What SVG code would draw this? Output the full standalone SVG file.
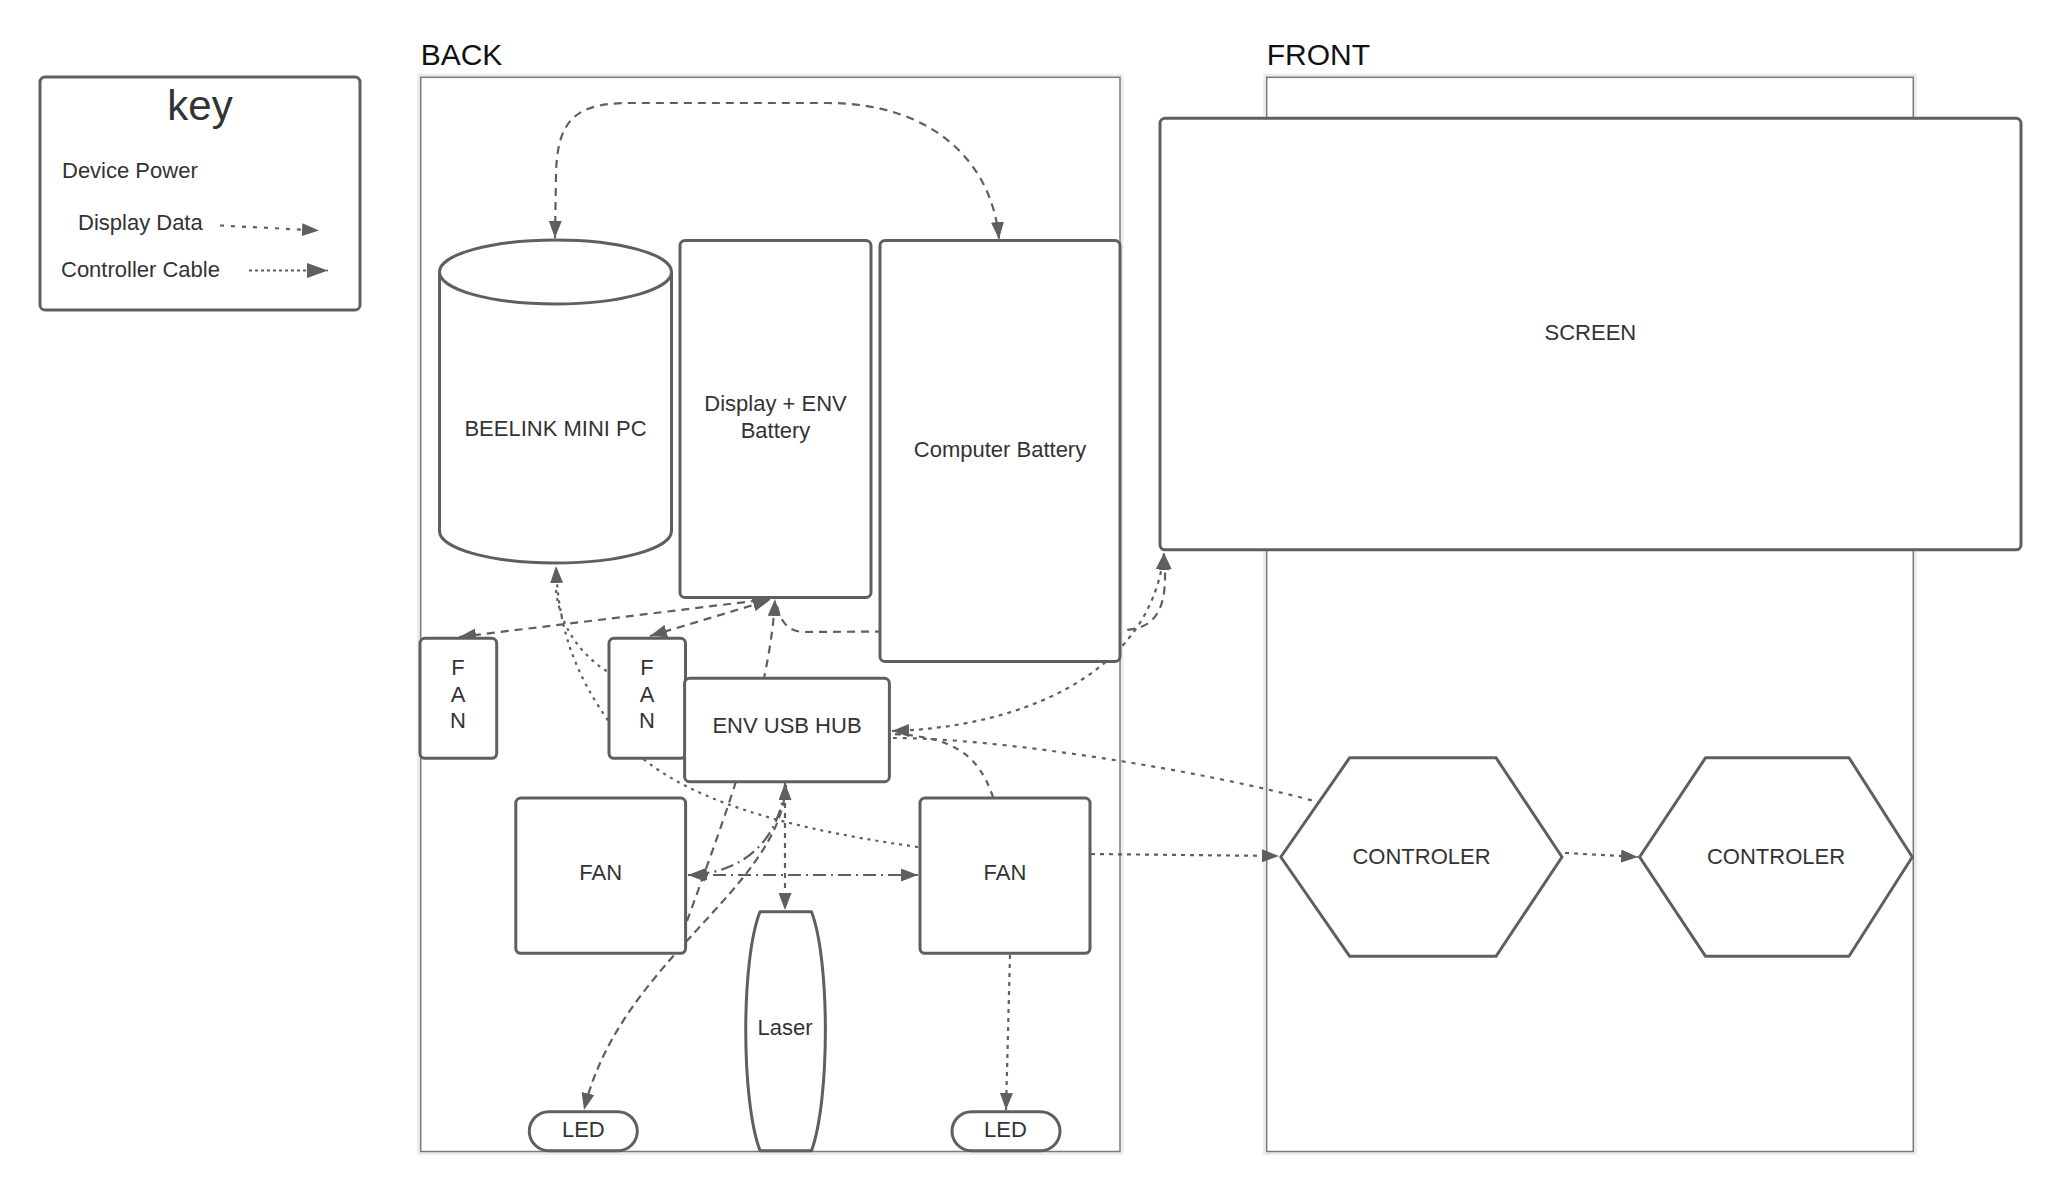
<svg xmlns="http://www.w3.org/2000/svg" width="2061" height="1198" viewBox="0 0 2061 1198">
<style>
  .title{font-family:"Liberation Sans",Arial,sans-serif;font-size:30px;fill:#111}
  .lbl{font-family:"Liberation Sans",Arial,sans-serif;font-size:22px;fill:#333;text-anchor:middle}
  .klbl{font-family:"Liberation Sans",Arial,sans-serif;font-size:22px;fill:#333}
  .node{fill:#fff;stroke:#5f5f5f;stroke-width:3;stroke-linejoin:round}
  .cont{fill:#fff;stroke:#7a7a7a;stroke-width:1.5}
  .shadow{fill:none;stroke:#ececec;stroke-width:7}
  .c{fill:none;stroke:#5f5f5f;stroke-width:2.2}
  .dash{stroke-dasharray:8 6}
  .sdash{stroke-dasharray:5 5}
  .dot{stroke-dasharray:3 5}
  .dot2{stroke-dasharray:4 6}
  .dd{stroke-dasharray:13 5 2 5}
</style>
<defs>
  <marker id="arr" markerUnits="userSpaceOnUse" markerWidth="18" markerHeight="13" refX="17" refY="6.5" orient="auto-start-reverse">
    <path d="M0,0 L17,6.5 L0,13 Z" fill="#5f5f5f"/>
  </marker>
  <marker id="arrBig" markerUnits="userSpaceOnUse" markerWidth="22" markerHeight="15" refX="21" refY="7.5" orient="auto-start-reverse">
    <path d="M0,0 L21,7.5 L0,15 Z" fill="#5f5f5f"/>
  </marker>
</defs>
<rect width="2061" height="1198" fill="#fff"/>

<g id="key">
  <rect x="40" y="77" width="320" height="233" rx="5" class="node"/>
  <text x="200" y="120" font-family="Liberation Sans, Arial, sans-serif" font-size="42" fill="#333" text-anchor="middle">key</text>
  <text x="62" y="178" class="klbl">Device Power</text>
  <text x="78" y="230" class="klbl">Display Data</text>
  <text x="61" y="277" class="klbl">Controller Cable</text>
  <path d="M220,225.5 L319,230.5" class="c" stroke-dasharray="4 7" marker-end="url(#arr)"/>
  <path d="M249,270.5 L328,270.5" class="c" stroke-dasharray="3 3" stroke-width="2.6" marker-end="url(#arrBig)"/>
</g>

<g id="back">
  <rect x="420.7" y="77.3" width="699.3" height="1074.2" class="shadow"/>
  <rect x="420.7" y="77.3" width="699.3" height="1074.2" class="cont"/>
  <text x="420.7" y="65" class="title">BACK</text>
</g>
<g id="front">
  <rect x="1266.7" y="77.3" width="646.6" height="1074.2" class="shadow"/>
  <rect x="1266.7" y="77.3" width="646.6" height="1074.2" class="cont"/>
  <text x="1266.7" y="65" class="title">FRONT</text>
</g>

<g id="connectors">
  <path d="M555,238 L556,175 C557,120 575,103 630,103 L828,103 C930,103 992,160 999,239" class="c dash" marker-start="url(#arr)" marker-end="url(#arr)"/>
  <path d="M459,637 L770,599" class="c dash" marker-start="url(#arr)" marker-end="url(#arr)"/>
  <path d="M650,636 L770,600" class="c dash" marker-start="url(#arr)" marker-end="url(#arr)"/>
  <path d="M687,921 C720,830 770,700 775,599" class="c dash" marker-end="url(#arr)"/>
  <path d="M777,606 C781,622 788,632 805,632 L1125,630 C1162,628 1168,600 1164,553" class="c dash" marker-end="url(#arr)"/>
  <path d="M892,731 C1010,728 1150,680 1164,553" class="c" stroke-dasharray="4 5" marker-start="url(#arr)" marker-end="url(#arr)"/>
  <path d="M893,738 C1000,738 1200,770 1318,802" class="c dot2"/>
  <path d="M993,797 C980,760 960,737 893,734" class="c" stroke-dasharray="6 6"/>
  <path d="M918,847 C760,825 660,790 615,730 S558,620 556,566" class="c dot" marker-end="url(#arr)"/>
  <path d="M556,590 C560,630 585,660 615,676" class="c dot"/>
  <path d="M785,783 L785,910" class="c sdash" marker-start="url(#arr)" marker-end="url(#arr)"/>
  <path d="M786,785 C780,890 620,960 584,1110" class="c" stroke-dasharray="8 5" marker-end="url(#arr)"/>
  <path d="M688,875 L918,875" class="c dd" marker-start="url(#arr)" marker-end="url(#arr)"/>
  <path d="M785,785 C780,835 750,872 690,875" class="c dd" marker-end="url(#arr)"/>
  <path d="M1010,955 L1006,1110" class="c" stroke-dasharray="4 5" marker-end="url(#arr)"/>
  <path d="M1091,854 L1279,856" class="c" stroke-dasharray="4 5" marker-end="url(#arr)"/>
  <path d="M1565,853 L1638,857" class="c" stroke-dasharray="4 5" marker-end="url(#arr)"/>
</g>

<g id="beelink">
  <path d="M439.5,272 A116,32 0 0 1 671.5,272 L671.5,531 A116,32 0 0 1 439.5,531 Z" class="node"/>
  <path d="M439.5,272 A116,32 0 0 0 671.5,272" class="node" fill="none"/>
  <text x="555.5" y="436" class="lbl">BEELINK MINI PC</text>
</g>
<g id="display-battery">
  <rect x="680" y="240.5" width="191" height="357" rx="5" class="node"/>
  <text x="775.5" y="411" class="lbl">Display + ENV</text>
  <text x="775.5" y="437.6" class="lbl">Battery</text>
</g>
<g id="computer-battery">
  <rect x="880" y="240.5" width="240" height="421" rx="5" class="node"/>
  <text x="1000" y="457.4" class="lbl">Computer Battery</text>
</g>
<g id="screen">
  <rect x="1160" y="118.3" width="861" height="431.5" rx="5" class="node"/>
  <text x="1590.4" y="340" class="lbl">SCREEN</text>
</g>
<g id="fan1">
  <rect x="420" y="638.3" width="76.7" height="120" rx="5" class="node"/>
  <text x="458" y="675" class="lbl">F</text>
  <text x="458" y="701.7" class="lbl">A</text>
  <text x="458" y="728.3" class="lbl">N</text>
</g>
<g id="fan2">
  <rect x="609" y="638.3" width="76.5" height="120" rx="5" class="node"/>
  <text x="647" y="675" class="lbl">F</text>
  <text x="647" y="701.7" class="lbl">A</text>
  <text x="647" y="728.3" class="lbl">N</text>
</g>
<g id="env-usb-hub">
  <rect x="684.6" y="678.3" width="204.8" height="103.4" rx="5" class="node"/>
  <text x="787" y="733.3" class="lbl">ENV USB HUB</text>
</g>
<g id="fan-left">
  <rect x="515.8" y="798" width="169.8" height="155.3" rx="5" class="node"/>
  <text x="600.7" y="880" class="lbl">FAN</text>
</g>
<g id="fan-right">
  <rect x="920" y="798" width="170" height="155.3" rx="5" class="node"/>
  <text x="1005" y="880" class="lbl">FAN</text>
</g>
<g id="laser">
  <path d="M760,911.7 L811.5,911.7 C830,960 830,1100 811.5,1150.7 L760,1150.7 C741,1100 741,960 760,911.7 Z" class="node"/>
  <text x="785" y="1035" class="lbl">Laser</text>
</g>
<g id="led-left">
  <rect x="529.3" y="1111.7" width="108" height="39" rx="19.5" class="node"/>
  <text x="583.3" y="1136.7" class="lbl">LED</text>
</g>
<g id="led-right">
  <rect x="952" y="1111.7" width="108" height="39" rx="19.5" class="node"/>
  <text x="1005.5" y="1136.7" class="lbl">LED</text>
</g>
<g id="controller1">
  <polygon points="1280.8,857 1349.7,757.7 1496,757.7 1562,857 1496,956.3 1349.7,956.3" class="node"/>
  <text x="1421.5" y="864" class="lbl">CONTROLER</text>
</g>
<g id="controller2">
  <polygon points="1639.6,857 1705.6,757.7 1849,757.7 1912.3,857 1849,956.3 1705.6,956.3" class="node"/>
  <text x="1776" y="864" class="lbl">CONTROLER</text>
</g>
</svg>
